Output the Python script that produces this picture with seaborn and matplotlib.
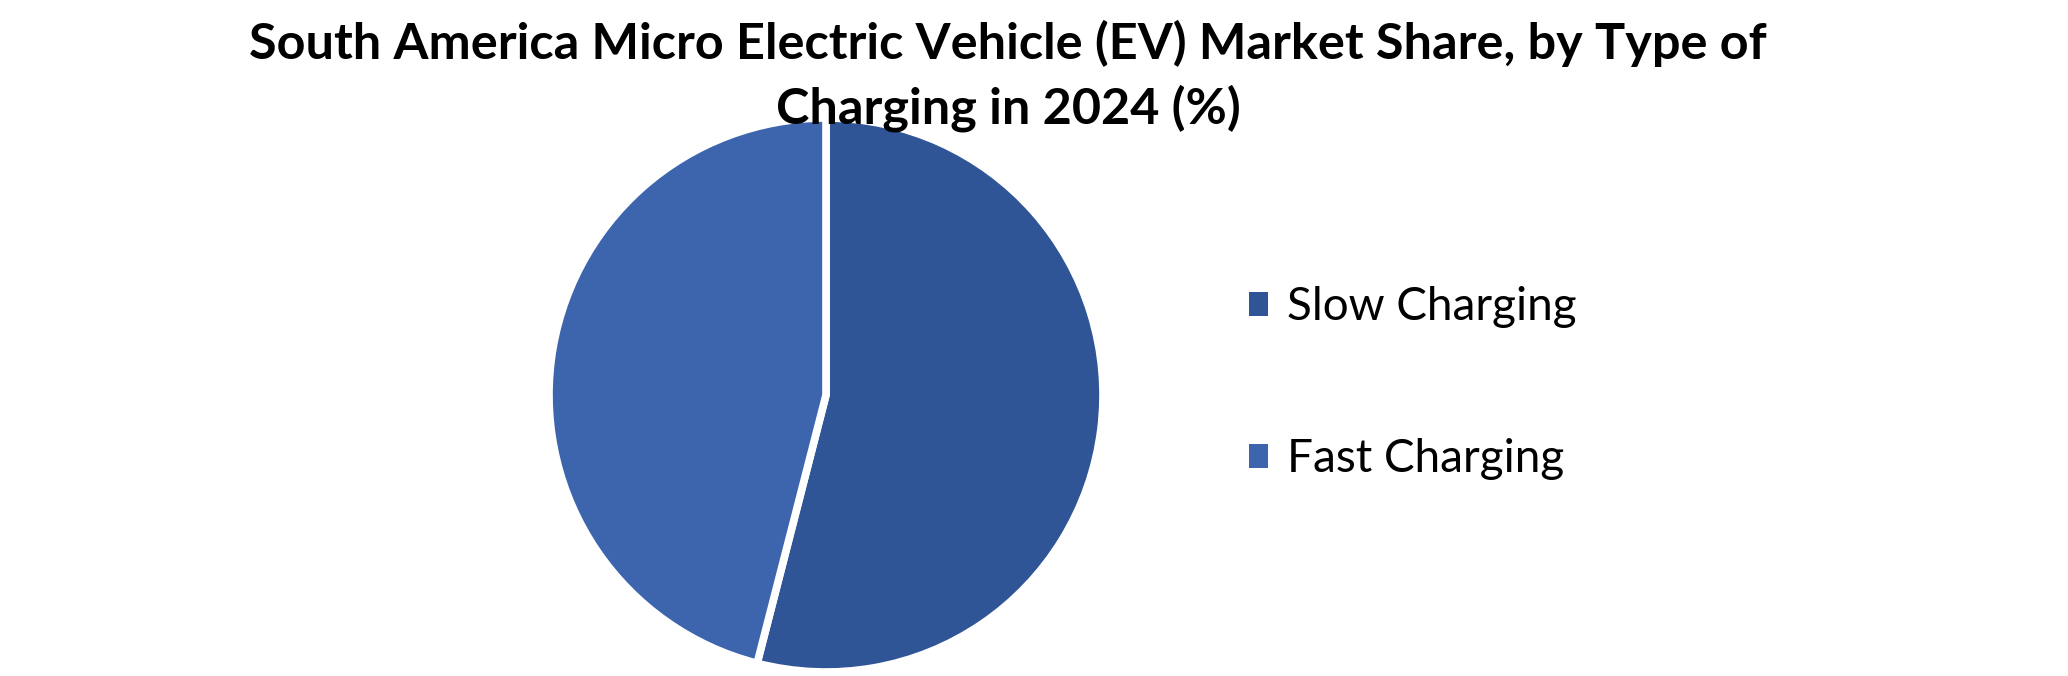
import matplotlib
matplotlib.use("Agg")
import matplotlib.pyplot as plt
from matplotlib.patches import Patch
import seaborn as sns

# data
categories = ["Slow Charging", "Fast Charging"]
shares = [54, 46]
colors = ["#2F5597", "#3C65AD"]
title = "South America Micro Electric Vehicle (EV) Market Share, by Type of\nCharging in 2024 (%)"

sns.set_theme(style="white")
plt.rcParams["font.family"] = ["Lato", "DejaVu Sans"]

W, H = 2068, 676
fig = plt.figure(figsize=(W / 100, H / 100), dpi=100)

# pie axes, centre (826, 395) px, radius ~275 px
cx, cy, r = 826, 395, 277
ax = fig.add_axes([(cx - r) / W, (H - cy - r) / H, 2 * r / W, 2 * r / H])
ax.pie(shares, colors=colors, startangle=90, counterclock=False, radius=1,
       wedgeprops=dict(edgecolor="white", linewidth=5.5))
ax.set_xlim(-1, 1)
ax.set_ylim(-1, 1)
ax.set_aspect("equal")
ax.axis("off")

fig.text(1008 / W, 1 - 20 / H, title, ha="center", va="top",
         fontsize=36.3, fontweight="bold", color="black", linespacing=1.45)

handles = [Patch(facecolor=c, edgecolor="none") for c in colors]
leg = fig.legend(handles, categories, loc="center left",
                 bbox_to_anchor=(1249 / W, 1 - 383 / H), frameon=False,
                 fontsize=33, handlelength=0.42, handleheight=0.42,
                 handletextpad=0.4, labelspacing=2.4, borderpad=0, borderaxespad=0)
for t in leg.get_texts():
    t.set_color("black")

fig.savefig("out.png", dpi=100, facecolor="white")
